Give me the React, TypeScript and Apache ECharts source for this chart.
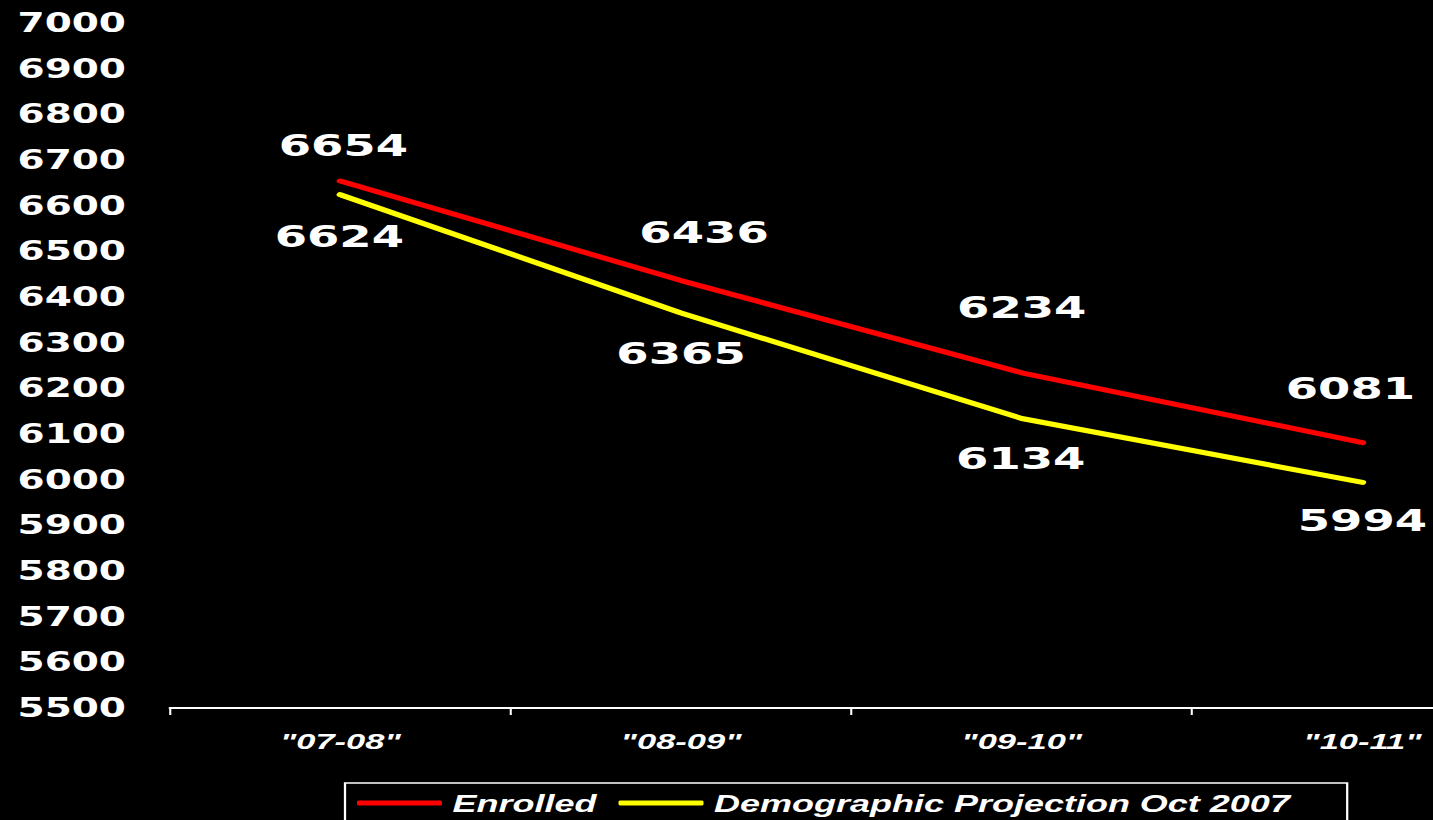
import React, { useEffect, useRef } from "react";
import * as echarts from "echarts";

const categories = ['"07-08"', '"08-09"', '"09-10"', '"10-11"'];
const enrolled = [6654, 6436, 6234, 6081];
const projection = [6624, 6365, 6134, 5994];
const seriesNames = ["Enrolled", "Demographic Projection Oct 2007"];
const yMin = 5500;
const yMax = 7000;
const yStep = 100;

// label nudges (screen px) relative to each point
const enrolledLabelShift = [[3, -36], [23, -49], [0, -66], [-12, -55]];
const projectionLabelShift = [[-1, 41], [0, 40], [-1, 40], [0, 38]];

const SX = 1.5; // horizontal stretch of the original slide
const CANVAS_W = 1620; // screen px, wider than the page; the overflow is clipped
const W = CANVAS_W / SX;
const PLOT_LEFT = 170;
const PLOT_W = 1362.8;

const numFont = "'DejaVu Sans', sans-serif";
const txtFont = "'Liberation Sans', Arial, sans-serif";

export default function App() {
  const ref = useRef<HTMLDivElement>(null);
  useEffect(() => {
    if (!ref.current) return;
    const chart = echarts.init(ref.current, undefined, { renderer: "svg" });
    const mk = (vals: number[], shifts: number[][]) =>
      vals.map((v, i) => ({
        value: v,
        label: { offset: [shifts[i][0] / SX, shifts[i][1]] },
      }));
    const valueLabel = {
      show: true,
      position: "inside",
      color: "#ffffff",
      fontFamily: numFont,
      fontWeight: "bold",
      fontSize: 31,
    };
    chart.setOption({
      animation: false,
      backgroundColor: "#000000",
      grid: {
        left: PLOT_LEFT / SX,
        top: 23,
        bottom: 112,
        right: (CANVAS_W - PLOT_LEFT - PLOT_W) / SX,
        containLabel: false,
      },
      xAxis: {
        type: "category",
        data: categories,
        boundaryGap: true,
        axisLine: { show: true, lineStyle: { color: "#ffffff", width: 2 } },
        axisTick: { show: true, length: 7, lineStyle: { color: "#ffffff", width: 1.4 } },
        axisLabel: {
          color: "#ffffff",
          fontFamily: txtFont,
          fontWeight: "bold",
          fontStyle: "italic",
          fontSize: 23,
          margin: 21,
        },
        splitLine: { show: false },
      },
      yAxis: {
        type: "value",
        min: yMin,
        max: yMax,
        interval: yStep,
        axisLine: { show: false },
        axisTick: { show: false },
        splitLine: { show: false },
        axisLabel: {
          color: "#ffffff",
          fontFamily: numFont,
          fontWeight: "bold",
          fontSize: 26,
          margin: 44 / SX,
          formatter: (v: number) => String(v),
        },
      },
      legend: {
        left: 345 / SX,
        top: 783,
        orient: "horizontal",
        data: seriesNames,
        icon: "roundRect",
        itemWidth: 85 / SX,
        itemHeight: 5,
        itemGap: 22 / SX,
        borderColor: "#ffffff",
        borderWidth: 1.5,
        borderRadius: 0,
        padding: [8, 38, 40, 12 / SX],
        textStyle: {
          color: "#ffffff",
          fontFamily: txtFont,
          fontWeight: "bold",
          fontStyle: "italic",
          fontSize: 24,
          padding: [0, 0, 0, 2],
        },
      },
      series: [
        {
          name: seriesNames[0],
          type: "line",
          data: mk(enrolled, enrolledLabelShift),
          symbol: "circle",
          symbolSize: 1,
          itemStyle: { color: "#ff0000" },
          lineStyle: { color: "#ff0000", width: 5, cap: "round" },
          label: valueLabel,
          z: 3,
        },
        {
          name: seriesNames[1],
          type: "line",
          data: mk(projection, projectionLabelShift),
          symbol: "circle",
          symbolSize: 1,
          itemStyle: { color: "#ffff00" },
          lineStyle: { color: "#ffff00", width: 5, cap: "round" },
          label: valueLabel,
          z: 2,
        },
      ],
    });
    return () => chart.dispose();
  }, []);
  return (
    <div
      style={{
        position: "fixed",
        left: 0,
        top: 0,
        width: 1433,
        height: 820,
        background: "#000000",
        overflow: "hidden",
      }}
    >
      <div
        ref={ref}
        style={{
          width: W,
          height: 820,
          transform: `scaleX(${SX})`,
          transformOrigin: "0 0",
        }}
      />
    </div>
  );
}
